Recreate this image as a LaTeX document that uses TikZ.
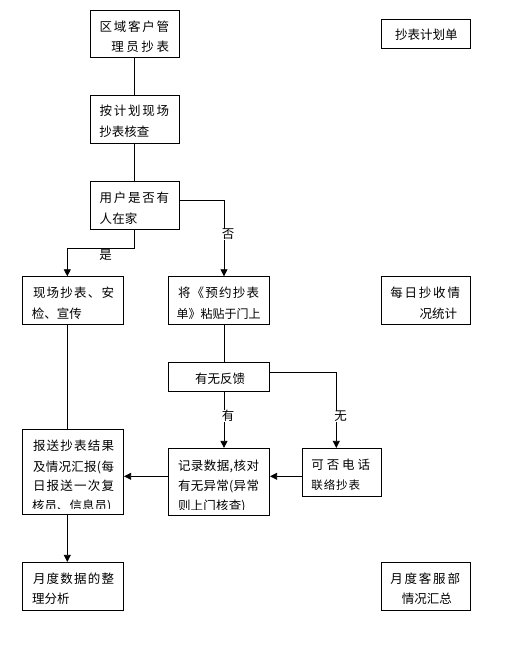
\documentclass[tikz,border=0pt]{standalone}
\usepackage{fontspec}
\setmainfont{Noto Sans CJK SC}
\usetikzlibrary{arrows.meta}
\def\spreadA#1{#1\spreadB}
\def\spreadB#1{\ifx#1\relax\else\hfill#1\expandafter\spreadB\fi}
\newcommand\fitline[2]{\makebox[#1]{\spreadA#2\relax}}
\tikzset{
  flowbox/.style={draw, line width=0.8pt, inner sep=0pt, fill=white},
  txtline/.style={anchor=base west, inner sep=0pt},
  conn/.style={draw, line width=0.8pt},
  arr/.style={conn, -{Triangle[length=7pt,width=7pt]}},
  lab/.style={anchor=base, inner sep=0pt, font=\fontsize{12.5}{12.5}\selectfont},
  labw/.style={lab, fill=white}
}
\newcommand\BX[5]{%
  \pgfmathsetmacro\bxc{(#2+#4)/2}\pgfmathsetmacro\byc{(#3+#5)/2}%
  \pgfmathsetmacro\bw{#4-#2}\pgfmathsetmacro\bh{#5-#3}%
  \node[flowbox,minimum width=\bw pt,minimum height=\bh pt] (#1) at (\bxc,\byc) {};}
\newcommand\TL[6][12.5]{%
  \pgfmathsetmacro\tlw{#4-#3+1}%
  \pgfmathsetmacro\tlx{#3-0.5}%
  \pgfmathsetmacro\tly{#5+0.38*#1}%
  \node[txtline,font=\fontsize{#1}{#1}\selectfont] (#2) at (\tlx,\tly) {\fitline{\tlw pt}{#6}};}
\begin{document}
\begin{tikzpicture}[x=1pt,y=-1pt]
\useasboundingbox[fill=white] (0,0) rectangle (504,648);
% boxes
\BX{b1}{90.3}{10.3}{179.7}{57.3}
\BX{plan}{381}{19.3}{470.3}{48.3}
\BX{b2}{90.3}{95.3}{179.7}{143.3}
\BX{b3}{90.3}{181.7}{179.7}{229.3}
\BX{b4}{22.3}{276.7}{123.7}{324.3}
\BX{b5}{168.3}{276.7}{269.7}{324.3}
\BX{daily}{381}{276.7}{470.3}{324.3}
\BX{fb}{168.3}{362.3}{269.7}{391.3}
\BX{rep}{22.3}{429.3}{123.7}{514.3}
\BX{rec}{168.3}{448.3}{269.7}{515.3}
\BX{tel}{302.3}{448.3}{381.3}{496.3}
\BX{mon}{22.3}{562.3}{123.7}{610.3}
\BX{sum}{381}{562.3}{470.3}{610.3}
% texts
\TL{t1a}{100}{168.3}{26.6}{区域客户管}
\TL{t1b}{111.7}{168.3}{47}{理员抄表}
\TL{tpa}{396.7}{455.7}{35}{抄表计划单}
\TL{t2a}{100}{168.3}{110.8}{按计划现场}
\TL{t2b}{100}{148.3}{132}{抄表核查}
\begin{scope}
\clip (90,181) rectangle (180,223.3);
\TL{t3a}{100}{168.3}{197.5}{用户是否有}
\TL{t3b}{100}{136.7}{218.5}{人在家}
\end{scope}
\TL{t4a}{33.3}{113.3}{292.5}{现场抄表、安}
\TL{t4b}{33.3}{80}{314}{检、宣传}
\TL{t5a}{178.3}{258.3}{292.5}{将《预约抄表}
\TL[12]{t5b}{178.3}{258.3}{314}{单》粘贴于门上}
\TL{tda}{390.7}{459.3}{292.5}{每日抄收情}
\TL{tdb}{420.7}{455.7}{314}{况统计}
\TL{tfb}{196.7}{243.3}{378.3}{有无反馈}
\begin{scope}
\clip (22,429) rectangle (124,508.3);
\TL{tra}{33.3}{113.3}{445.3}{报送抄表结果}
\TL{trb}{33.3}{113.3}{466.3}{及情况汇报(每}
\TL{trc}{33.3}{113.3}{486}{日报送一次复}
\TL{trd}{33.3}{110}{505.5}{核员、信息员)}
\end{scope}
\begin{scope}
\clip (168,448) rectangle (270,509.3);
\TL{tca}{178.3}{258.3}{465.5}{记录数据,核对}
\TL{tcb}{178.3}{258.3}{485.5}{有无异常(异常}
\TL{tcc}{178.3}{245}{505.5}{则上门核查)}
\end{scope}
\TL{tta}{311.7}{369.3}{464.7}{可否电话}
\TL[11.5]{ttb}{311.7}{359.3}{485}{联络抄表}
\TL{tma}{33.3}{113.3}{578.5}{月度数据的整}
\TL{tmb}{33.3}{68}{599}{理分析}
\TL{tsa}{390.7}{459.3}{578.5}{月度客服部}
\TL{tsb}{403.3}{450}{599}{情况汇总}
% connectors
\coordinate (q) at (0,248.3);
\coordinate (p3) at ([yshift=5.2pt]b3.east);
\coordinate (p4) at ([xshift=5pt]b5.north);
\coordinate (p5) at ([xshift=-0.7pt]b3.south);
\coordinate (p6) at ([xshift=-5.7pt]b4.north);
\coordinate (p8) at ([yshift=4.5pt]fb.east);
\coordinate (p9) at ([xshift=-5.5pt]tel.north);
\coordinate (p1) at ([yshift=5.5pt]rec.west);
\coordinate (p2) at ([yshift=-4pt]tel.west);
\draw[conn] ([xshift=-0.7pt]b1.south) -- ([xshift=-0.7pt]b2.north);
\draw[conn] ([xshift=-0.7pt]b2.south) -- ([xshift=-0.7pt]b3.north);
\draw[arr] (p3) -| (p4);
\draw[arr] (p5) -- (p5 |- q) -| (p6);
\draw[conn] ([xshift=5pt]b5.south) -- ([xshift=5pt]fb.north);
\draw[arr] (p8) -| (p9);
\draw[arr] ([xshift=5pt]fb.south) -- ([xshift=5pt]rec.north);
\draw[arr] (p2) -- (p2 -| rec.east);
\draw[arr] (p1) -- (p1 -| rep.east);
\draw[conn] ([xshift=-5.7pt]b4.south) -- ([xshift=-5.7pt]rep.north);
\draw[arr] ([xshift=-5.7pt]rep.south) -- ([xshift=-5.7pt]mon.north);
% labels
\node[lab] (lyes) at (105.5,259.1) {是};
\node[labw] (lno) at (228,238.8) {否};
\node[labw] (lhas) at (228,420.8) {有};
\node[labw] (lnone) at (340.5,420.8) {无};
\end{tikzpicture}
\end{document}
